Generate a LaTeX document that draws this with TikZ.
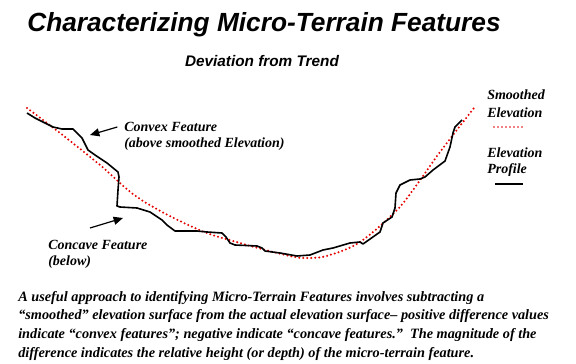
\documentclass[tikz,border=0pt]{standalone}
\usepackage{fontspec}
\setmainfont{Liberation Serif}
\newfontfamily\titlefont{Liberation Sans}
\usetikzlibrary{arrows.meta, positioning}

\tikzset{
  profile/.style={draw=black, line width=1.2pt, line join=round},
  smoothed/.style={draw=red!90!black, line width=1.7pt, line cap=round, dash pattern=on 0pt off 3pt},
  pointer/.style={draw=black, line width=0.9pt, -{Triangle[length=7pt,width=6pt]}},
  lbl/.style={font=\fontsize{10.5}{12}\selectfont\bfseries\itshape, anchor=west, inner sep=0pt}
}

\begin{document}
\begin{tikzpicture}[x=0.75pt, y=-0.75pt]
  \useasboundingbox (0,0) rectangle (576,364);

  % headings
  \node (title) at (264,25) {\titlefont\fontsize{19.7}{23}\selectfont\bfseries\itshape Characterizing Micro-Terrain Features};
  \node (subtitle) at (262,61) {\titlefont\fontsize{11.5}{14}\selectfont\bfseries\itshape Deviation from Trend};

  % smoothed trend
  \draw[smoothed] plot[smooth, tension=0.6] coordinates {
    (27,108) (60,133) (100,165) (140,199) (197,229) (240,243) (290,256)
    (310,258) (330,255) (360,242) (395,212) (413,190) (440,152) (474,108)};

  % elevation profile
  \draw[profile] (27,113) -- (35,118) -- (43,122) -- (53,127) -- (62,129) -- (73,129)
    -- (82,138) -- (88,150) -- (95,155) -- (107,163) -- (118,172) -- (119,177)
    -- (118,190) -- (117,206) -- (120,207) -- (137,208) -- (150,212) -- (162,220)
    -- (167,225) -- (175,231) -- (197,231) -- (207,232) -- (222,233) -- (226,237)
    -- (230,243) -- (235,245) -- (257,246) -- (262,248) -- (265,251) -- (280,253)
    -- (297,256) -- (310,255) -- (323,250) -- (333,248) -- (350,243) -- (360,242)
    -- (363,244) -- (380,232) -- (383,223) -- (392,217) -- (395,208) -- (396,193)
    -- (400,185) -- (410,180) -- (420,179) -- (425,177) -- (433,170) -- (445,161)
    -- (450,147) -- (453,133) -- (455,127) -- (462,120);

  % feature labels
  \begin{scope}[every node/.style={lbl}]
    \node (cvx1) at (124,127) {Convex Feature};
    \node (cvx2) at (124,144) {(above smoothed Elevation)};
    \node (ccv1) at (48,245) {Concave Feature};
    \node (ccv2) at (48,262) {(below)};
  \end{scope}
  \coordinate (cvxtip) at (90,135);
  \coordinate (ccvtip) at (123,218);
  \coordinate (ccvtail) at (90,228);
  \draw[pointer] ([xshift=-5]cvx1.west) -- (cvxtip);
  \draw[pointer] (ccvtail) -- (ccvtip);

  % legend
  \begin{scope}[every node/.style={lbl}]
    \node (smo1) at (487,95) {Smoothed};
    \node (smo2) at (487,113) {Elevation};
    \node (pro1) at (487,153) {Elevation};
    \node (pro2) at (487,170) {Profile};
  \end{scope}
  \coordinate (smoA) at (494,127);
  \coordinate (smoB) at (523,127);
  \coordinate (proA) at (495,184);
  \coordinate (proB) at (523,184);
  \draw[smoothed, line width=1.3pt] (smoA) -- (smoB);
  \draw[profile] (proA) -- (proB);

  % explanation
  \node[anchor=north west, align=left, inner sep=0pt,
        font=\fontsize{10.7}{14}\selectfont\bfseries\itshape] (note) at (18,291)
    {A useful approach to identifying Micro-Terrain Features involves subtracting a\\
     “smoothed” elevation surface from the actual elevation surface– positive difference values\\
     indicate “convex features”; negative indicate “concave features.”\ \ The magnitude of the\\
     difference indicates the relative height (or depth) of the micro-terrain feature.};
\end{tikzpicture}
\end{document}
